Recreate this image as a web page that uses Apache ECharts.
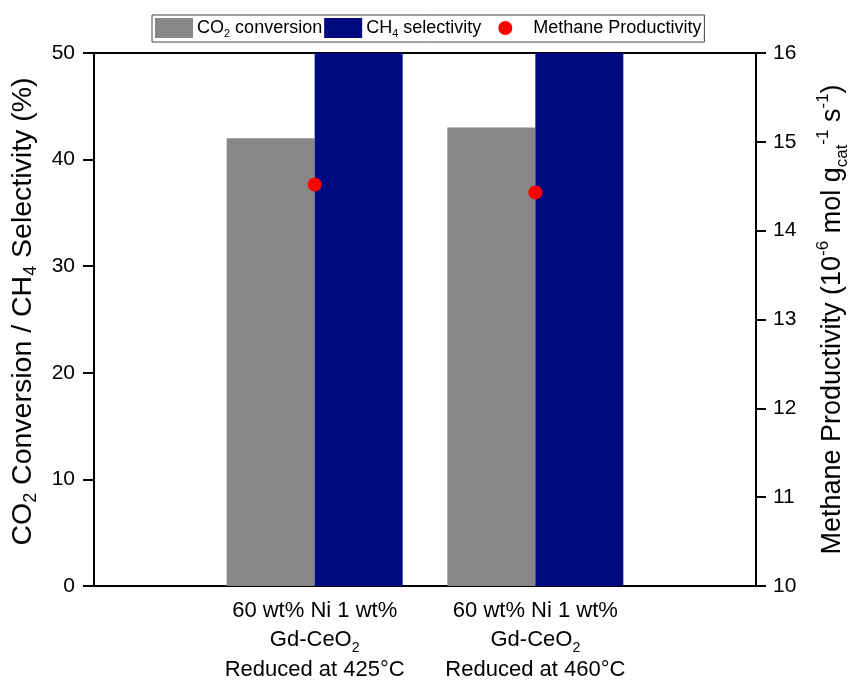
<!DOCTYPE html>
<html>
<head>
<meta charset="utf-8">
<script src="https://cdn.jsdelivr.net/npm/echarts@6/dist/echarts.min.js"></script>
<style>
  html, body { margin: 0; padding: 0; background: #fff; }
  #chart { width: 848px; height: 680px; }
</style>
</head>
<body>
<div id="chart"></div>
<script>
// Catalysts (padded with empty slots so the two samples sit at positions 1 and 2)
const categories = ['', 'cat425', 'cat460', ''];
const catalystLabels = {
  cat425: '60 wt% Ni 1 wt%\n{n|Gd-CeO}{sub|2}\nReduced at 425°C',
  cat460: '60 wt% Ni 1 wt%\n{n|Gd-CeO}{sub|2}\nReduced at 460°C'
};
// CO2 conversion (%)
const co2Conversion = [null, 42.0, 43.0, null];
// CH4 selectivity (%), runs past the 50 % axis limit
const ch4Selectivity = [null, 99, 99, null];
// Methane productivity (10^-6 mol g_cat^-1 s^-1)
const methaneProductivity = [null, 14.52, 14.43, null];

const leftTicks = { min: 0, max: 50, interval: 10 };
const rightTicks = { min: 10, max: 16, interval: 1 };

const FONT = '"Liberation Sans", Arial, sans-serif';
// red dot inside a 38x20 legend box
const dotIcon = 'path://M0,0M38,20M15,10a7,7 0 1,0 14,0a7,7 0 1,0 -14,0z';

const chart = echarts.init(document.getElementById('chart'));
chart.setOption({
  backgroundColor: '#fff',
  animation: false,
  textStyle: { fontFamily: FONT, color: '#000' },
  legend: {
    top: 15,
    left: 152,
    padding: [3, 3, 3, 3],
    itemGap: 2,
    itemWidth: 38,
    itemHeight: 20,
    borderColor: '#444',
    borderWidth: 1,
    textStyle: {
      fontFamily: FONT, fontSize: 18, color: '#000', padding: [0, 0, 0, -1],
      rich: {
        n: { fontFamily: FONT, fontSize: 18, color: '#000', lineHeight: 22, verticalAlign: 'middle' },
        sub: { fontFamily: FONT, fontSize: 11, color: '#000', lineHeight: 22, verticalAlign: 'bottom' }
      }
    },
    formatter: function (name) {
      if (name === 'CO2 conversion') return '{n|CO}{sub|2}{n| conversion}';
      if (name === 'CH4 selectivity') return '{n|CH}{sub|4}{n| selectivity}';
      return '{n| Methane Productivity}';
    },
    data: [
      { name: 'CO2 conversion', icon: 'rect' },
      { name: 'CH4 selectivity', icon: 'rect' },
      { name: 'Methane Productivity', icon: dotIcon, textStyle: { padding: [0, 0, 0, 2] } }
    ]
  },
  grid: {
    left: 94, right: 92, top: 53, bottom: 94,
    outerBoundsMode: 'none',
    containLabel: false,
    show: true, borderColor: '#000', borderWidth: 2
  },
  xAxis: {
    type: 'category',
    data: categories,
    boundaryGap: false,
    axisLine: { lineStyle: { color: '#000', width: 2 } },
    axisTick: { show: false },
    splitLine: { show: false },
    axisLabel: {
      interval: 0,
      margin: 10,
      fontSize: 22,
      lineHeight: 29.5,
      color: '#000',
      fontFamily: FONT,
      formatter: function (v) { return catalystLabels[v] || ''; },
      rich: {
        n: { fontSize: 22, fontFamily: FONT, color: '#000', lineHeight: 29.5, verticalAlign: 'middle' },
        sub: { fontSize: 14, fontFamily: FONT, color: '#000', lineHeight: 29.5, verticalAlign: 'bottom' }
      }
    }
  },
  yAxis: [
    {
      type: 'value',
      min: leftTicks.min, max: leftTicks.max, interval: leftTicks.interval,
      position: 'left',
      name: '{n|CO}{sub|2}{n| Conversion / CH}{sub|4}{n| Selectivity (%)}',
      nameLocation: 'middle',
      nameGap: 54,
      nameTextStyle: {
        padding: [0, 0, 0, 16],
        rich: {
          n: { fontSize: 28.5, fontFamily: FONT, color: '#000', lineHeight: 34, verticalAlign: 'middle' },
          sub: { fontSize: 18, fontFamily: FONT, color: '#000', lineHeight: 34, verticalAlign: 'bottom' }
        }
      },
      axisLine: { show: true, lineStyle: { color: '#000', width: 2 } },
      axisTick: { show: true, inside: false, length: 11, lineStyle: { color: '#000', width: 2 } },
      splitLine: { show: false },
      axisLabel: { fontSize: 21, color: '#000', fontFamily: FONT, margin: 19 }
    },
    {
      type: 'value',
      min: rightTicks.min, max: rightTicks.max, interval: rightTicks.interval,
      position: 'right',
      name: '{n|Methane Productivity (10}{sup|-6}{n| mol g}{sub|cat}{sup|-1}{n| s}{sup|-1}{n|)}',
      nameLocation: 'middle',
      nameGap: 59,
      nameRotate: 90,
      nameTextStyle: {
        rich: {
          n: { fontSize: 27, fontFamily: FONT, color: '#000', lineHeight: 36, verticalAlign: 'middle' },
          sup: { fontSize: 17, fontFamily: FONT, color: '#000', lineHeight: 36, verticalAlign: 'top' },
          sub: { fontSize: 17, fontFamily: FONT, color: '#000', lineHeight: 36, verticalAlign: 'bottom' }
        }
      },
      axisLine: { show: true, lineStyle: { color: '#000', width: 2 } },
      axisTick: { show: true, inside: false, length: 10, lineStyle: { color: '#000', width: 2 } },
      splitLine: { show: false },
      axisLabel: { fontSize: 21, color: '#000', fontFamily: FONT, margin: 17 }
    }
  ],
  series: [
    {
      name: 'CO2 conversion',
      type: 'bar',
      yAxisIndex: 0,
      data: co2Conversion,
      barWidth: 88,
      barGap: '0%',
      clip: true,
      itemStyle: { color: '#878787' }
    },
    {
      name: 'CH4 selectivity',
      type: 'bar',
      yAxisIndex: 0,
      data: ch4Selectivity,
      barWidth: 88,
      barGap: '0%',
      clip: true,
      itemStyle: { color: '#000a80' }
    },
    {
      name: 'Methane Productivity',
      type: 'scatter',
      yAxisIndex: 1,
      data: methaneProductivity,
      symbol: 'circle',
      symbolSize: 14,
      z: 5,
      itemStyle: { color: '#ff0000', opacity: 1 }
    }
  ]
});
</script>
</body>
</html>
